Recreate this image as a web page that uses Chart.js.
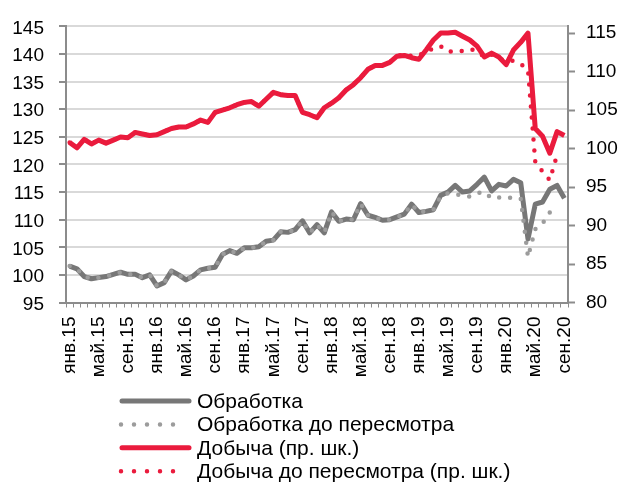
<!DOCTYPE html>
<html><head><meta charset="utf-8">
<script src="https://cdn.jsdelivr.net/npm/chart.js@4.4.1/dist/chart.umd.min.js"></script>
<style>html,body{margin:0;padding:0;background:#fff;}#wrap{width:626px;height:484px;}</style>
</head><body><div id="wrap"><canvas id="c" width="626" height="484"></canvas></div>
<script>
const categories = [
'янв.15','фев.15','мар.15','апр.15','май.15','июн.15','июл.15','авг.15','сен.15','окт.15','ноя.15','дек.15',
'янв.16','фев.16','мар.16','апр.16','май.16','июн.16','июл.16','авг.16','сен.16','окт.16','ноя.16','дек.16',
'янв.17','фев.17','мар.17','апр.17','май.17','июн.17','июл.17','авг.17','сен.17','окт.17','ноя.17','дек.17',
'янв.18','фев.18','мар.18','апр.18','май.18','июн.18','июл.18','авг.18','сен.18','окт.18','ноя.18','дек.18',
'янв.19','фев.19','мар.19','апр.19','май.19','июн.19','июл.19','авг.19','сен.19','окт.19','ноя.19','дек.19',
'янв.20','фев.20','мар.20','апр.20','май.20','июн.20','июл.20','авг.20','сен.20'];

const obrabotka = [
101.6,101.1,99.7,99.3,99.5,99.7,100.1,100.5,100.1,100.1,99.5,100.0,
98.0,98.6,100.7,100.0,99.1,99.8,100.9,101.2,101.4,103.7,104.4,103.9,
104.9,104.9,105.1,106.1,106.3,107.8,107.7,108.2,109.8,107.6,109.1,107.6,
111.4,109.7,110.1,110.0,112.9,110.8,110.4,109.9,110.0,110.5,111.0,112.8,
111.3,111.5,111.8,114.4,115.0,116.2,115.0,115.2,116.4,117.7,115.2,116.4,
116.1,117.3,116.7,106.5,112.8,113.2,115.5,116.2,113.9];

const obrabotkaOld = [
101.6,101.1,99.7,99.3,99.5,99.7,100.1,100.5,100.1,100.1,99.5,100.0,
98.0,98.6,100.7,100.0,99.1,99.8,100.9,101.2,101.4,103.7,104.4,103.9,
104.9,104.9,105.1,106.1,106.3,107.8,107.7,108.2,109.8,107.6,109.1,107.6,
111.4,109.7,110.1,110.0,112.9,110.8,110.4,109.9,110.0,110.5,111.0,112.8,
111.3,111.5,111.8,114.2,114.8,114.6,114.4,114.2,114.8,115.0,113.9,114.0,
114.1,113.9,113.8,103.2,108.3,109.3,111.3,null,null];

const dobycha = [
100.8,100.1,101.2,100.6,101.1,100.7,101.1,101.5,101.4,102.1,101.9,101.7,
101.8,102.2,102.6,102.8,102.8,103.2,103.7,103.4,104.7,105.0,105.3,105.7,
106.0,106.1,105.5,106.4,107.3,107.0,106.9,106.9,104.7,104.4,104.0,105.3,
105.9,106.6,107.6,108.3,109.2,110.3,110.8,110.8,111.2,112.0,112.1,111.8,
111.6,112.8,114.1,115.0,115.0,115.1,114.6,114.1,113.3,111.9,112.4,111.9,
110.9,112.8,113.8,115.0,102.6,101.6,99.4,102.2,101.7];

const dobychaOld = [
100.8,100.1,101.2,100.6,101.1,100.7,101.1,101.5,101.4,102.1,101.9,101.7,
101.8,102.2,102.6,102.8,102.8,103.2,103.7,103.4,104.7,105.0,105.3,105.7,
106.0,106.1,105.5,106.4,107.3,107.0,106.9,106.9,104.7,104.4,104.0,105.3,
105.9,106.6,107.6,108.3,109.2,110.3,110.8,110.8,111.2,112.0,112.3,112.0,
112.1,112.6,113.0,113.3,112.6,112.6,112.7,112.9,112.7,111.9,112.2,111.7,
111.4,111.4,111.0,110.2,98.3,97.0,95.9,99.2,null];

const leftTicks = [95,100,105,110,115,120,125,130,135,140,145];
const rightTicks = [80,85,90,95,100,105,110,115];
const seriesNames = ['Обработка','Обработка до пересмотра','Добыча (пр. шк.)','Добыча до пересмотра (пр. шк.)'];

const GREY = '#777777', GREY_L = '#9c9c9c', RED = '#ea1b3d', AXIS = '#8c8c8c';
const FONT = '"Liberation Sans", Arial, sans-serif';
Chart.defaults.font.family = FONT;
Chart.defaults.color = '#000';

const legendPlugin = {
  id: 'customLegend',
  afterDraw(chart) {
    const ctx = chart.ctx;
    const order = [0, 1, 2, 3];
    ctx.save();
    ctx.font = '21px ' + FONT;
    ctx.textBaseline = 'middle';
    order.forEach((di, k) => {
      const ds = chart.data.datasets[di];
      const y = 401 + k * 23.4;
      ctx.beginPath();
      ctx.strokeStyle = ds.borderColor;
      ctx.lineWidth = ds.borderWidth;
      ctx.lineCap = 'round';
      if (ds.borderDash && ds.borderDash.length) {
        ctx.setLineDash([0, 13]);
        ctx.moveTo(121, y); ctx.lineTo(186, y);
      } else {
        ctx.setLineDash([]);
        ctx.moveTo(122, y); ctx.lineTo(189, y);
      }
      ctx.stroke();
      ctx.setLineDash([]);
      ctx.fillStyle = '#000';
      ctx.fillText(ds.label, 197, y + 1);
    });
    ctx.restore();
  }
};

new Chart(document.getElementById('c'), {
  type: 'line',
  data: {
    labels: categories,
    datasets: [
      { label: seriesNames[0], data: obrabotka, yAxisID: 'y', borderColor: GREY, borderWidth: 5, pointRadius: 0, tension: 0, order: 2, borderJoinStyle: 'round' },
      { label: seriesNames[1], data: obrabotkaOld, yAxisID: 'y', borderColor: GREY_L, borderWidth: 4.5, borderDash: [0, 11], borderCapStyle: 'round', pointRadius: 0, tension: 0, order: 1 },
      { label: seriesNames[2], data: dobycha, yAxisID: 'y2', borderColor: RED, borderWidth: 5, pointRadius: 0, tension: 0, order: 2, borderJoinStyle: 'round' },
      { label: seriesNames[3], data: dobychaOld, yAxisID: 'y2', borderColor: RED, borderWidth: 4.5, borderDash: [0, 11], borderCapStyle: 'round', pointRadius: 0, tension: 0, order: 1 }
    ]
  },
  options: {
    responsive: false,
    animation: false,
    devicePixelRatio: 1,
    layout: { padding: { top: 22.5, bottom: 100, left: 0, right: 0 } },
    plugins: { legend: { display: false }, tooltip: { enabled: false }, title: { display: false } },
    scales: {
      x: {
        type: 'category',
        offset: true,
        grid: { offset: true, drawOnChartArea: false, drawTicks: true, tickLength: 5, tickColor: AXIS, tickWidth: 1 },
        border: { display: true, color: AXIS, width: 2 },
        ticks: { autoSkip: false, maxRotation: 90, minRotation: 90, padding: 9, color: '#000', font: { size: 19 },
          callback: (v, i) => (i % 4 === 0 ? categories[i] : '') },
        afterFit: s => { s.height = 81.5; }
      },
      y: {
        position: 'left',
        min: 95, max: 145,
        afterBuildTicks: s => { s.ticks = leftTicks.map(v => ({ value: v })); },
        ticks: { padding: 15, color: '#000', font: { size: 19 }, labelOffset: 2 },
        grid: { color: '#d9d9d9', lineWidth: 2, tickLength: 7, tickColor: AXIS, tickWidth: 2 },
        border: { display: true, color: AXIS, width: 2 },
        afterFit: s => { s.width = 66; }
      },
      y2: {
        position: 'right',
        min: 80, max: 115.87,
        afterBuildTicks: s => { s.ticks = rightTicks.map(v => ({ value: v })); },
        ticks: { padding: 11, color: '#000', font: { size: 19 } },
        grid: { drawOnChartArea: false, tickLength: 7, tickColor: AXIS, tickWidth: 2 },
        border: { display: true, color: AXIS, width: 2 },
        afterFit: s => { s.width = 58; }
      }
    }
  },
  plugins: [legendPlugin]
});
</script>
</body></html>
